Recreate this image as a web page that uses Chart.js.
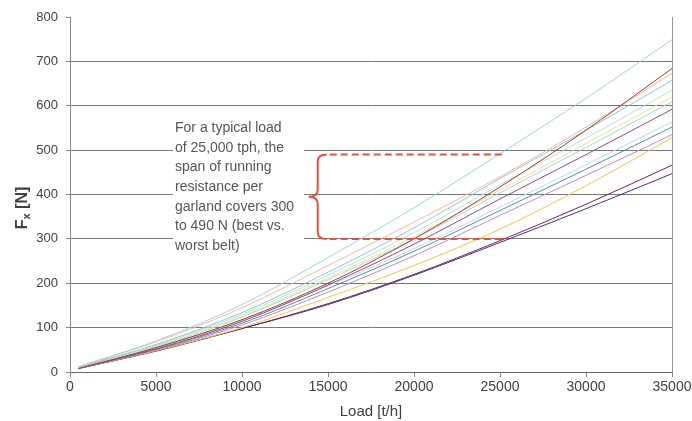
<!DOCTYPE html>
<html>
<head>
<meta charset="utf-8">
<script src="https://cdn.jsdelivr.net/npm/chart.js@4/dist/chart.umd.min.js"></script>
<style>
  html, body { margin: 0; padding: 0; background: #fff; }
  #wrap { width: 692px; height: 421px; }
</style>
</head>
<body>
<div id="wrap"><canvas id="myChart" width="692" height="421"></canvas></div>
<script>
// load points [t/h]
var loads = [500, 5000, 10000, 15000, 20000, 25000, 30000, 35000];

// running resistance per garland [N], one array per belt
var belt1  = [12, 70, 152, 258, 370, 492, 617, 749];
var belt2  = [8, 55, 118, 200, 300, 417, 545, 684];
var belt3  = [12, 68, 145, 240, 338, 440, 552, 673];
var belt4  = [11, 62, 134, 225, 325, 436, 545, 657];
var belt5  = [11, 60, 130, 218, 314, 422, 527, 635];
var belt6  = [10, 58, 126, 212, 305, 410, 515, 620];
var belt7  = [10, 57, 124, 208, 300, 404, 506, 609];
var belt8  = [9, 52, 114, 196, 288, 390, 490, 592];
var belt9  = [10, 54, 116, 194, 278, 372, 467, 564];
var belt10 = [9, 51, 110, 188, 272, 364, 457, 552];
var belt11 = [8, 49, 106, 180, 262, 353, 443, 535];
var belt12 = [9, 48, 100, 168, 240, 322, 420, 528];
var belt13 = [8, 47, 98, 154, 220, 296, 378, 466];
var belt14 = [8, 48, 98, 152, 218, 292, 368, 447];

var belts = [belt1, belt2, belt3, belt4, belt5, belt6, belt7, belt8, belt9, belt10, belt11, belt12, belt13, belt14];
var beltColors = ['#9dd3e8', '#a03a2a', '#f5b89a', '#8cc6dc', '#b8e2d2', '#ede29a', '#a8d4e6',
                  '#8c4a86', '#c4d6e0', '#4e8dae', '#c48ac0', '#f0c648', '#7a1e5e', '#34348e'];

// annotation: span at the typical load
var typicalLoad = 25000;
var spanLow = 300;
var spanHigh = 490;
var noteLines = ['For a typical load', 'of 25,000 tph, the', 'span of running', 'resistance per',
                 'garland covers 300', 'to 490 N (best vs.', 'worst belt)'];

var datasets = belts.map(function (vals, i) {
    return {
        data: vals.map(function (v, j) { return { x: loads[j], y: v }; }),
        borderColor: beltColors[i],
        borderWidth: 1,
        pointRadius: 0,
        fill: false,
        cubicInterpolationMode: 'monotone'
    };
});

var FONT = '"Liberation Sans", Arial, sans-serif';
var RED = '#e8503a';

var extras = {
    id: 'extras',
    afterDatasetsDraw: function (chart) {
        var c = chart.ctx, xs = chart.scales.x, ys = chart.scales.y;
        c.save();
        // note box
        c.fillStyle = '#fff';
        c.fillRect(173, 113, 131, 146);
        c.fillStyle = '#555';
        c.font = '14px ' + FONT;
        c.textBaseline = 'middle';
        noteLines.forEach(function (t, i) {
            c.fillText(t, 175, 128 + i * 19.7);
        });

        // brace and dashed span lines
        var yTop = ys.getPixelForValue(spanHigh);
        var yBot = ys.getPixelForValue(spanLow);
        var yMid = (yTop + yBot) / 2;
        var xb = xs.getPixelForValue(14400);
        var xEnd = xs.getPixelForValue(typicalLoad + 300);
        var r = 7;
        c.strokeStyle = RED;
        c.lineWidth = 2;
        c.beginPath();
        c.moveTo(xb + r + 2, yTop);
        c.quadraticCurveTo(xb, yTop, xb, yTop + r);
        c.lineTo(xb, yMid - 7);
        c.quadraticCurveTo(xb, yMid, xb - 9, yMid);
        c.quadraticCurveTo(xb, yMid, xb, yMid + 7);
        c.lineTo(xb, yBot - r);
        c.quadraticCurveTo(xb, yBot, xb + r + 2, yBot);
        c.stroke();

        c.setLineDash([7, 4]);
        c.beginPath();
        c.moveTo(xb + r + 5, yTop);
        c.lineTo(xEnd, yTop);
        c.moveTo(xb + r + 5, yBot);
        c.lineTo(xEnd, yBot);
        c.stroke();
        c.setLineDash([]);

        // y axis title with subscript
        c.translate(21, 208);
        c.rotate(-Math.PI / 2);
        c.fillStyle = '#404040';
        c.textBaseline = 'alphabetic';
        c.font = 'bold 16px ' + FONT;
        var w = c.measureText('F').width;
        var w2;
        c.font = 'bold 11px ' + FONT;
        w2 = c.measureText('x').width;
        c.font = 'bold 16px ' + FONT;
        var w3 = c.measureText(' [N]').width;
        var x0 = -(w + w2 + w3) / 2;
        c.fillText('F', x0, 6);
        c.font = 'bold 11px ' + FONT;
        c.fillText('x', x0 + w, 9);
        c.font = 'bold 16px ' + FONT;
        c.fillText(' [N]', x0 + w + w2, 6);
        c.restore();
    }
};

var ctx = document.getElementById('myChart').getContext('2d');
var myChart = new Chart(ctx, {
    type: 'line',
    data: { datasets: datasets },
    options: {
        responsive: false,
        animation: false,
        events: [],
        layout: { padding: { top: 17, right: 20, bottom: 0, left: 0 } },
        plugins: {
            legend: { display: false },
            tooltip: { enabled: false }
        },
        scales: {
            x: {
                type: 'linear',
                min: 0,
                max: 35000,
                afterFit: function (s) {
                    s.height = 49;
                    s.paddingLeft = 0;
                    s.paddingRight = 0;
                },
                ticks: {
                    stepSize: 5000,
                    autoSkip: false,
                    maxRotation: 0,
                    padding: 2,
                    color: '#404040',
                    font: { family: FONT, size: 14 },
                    callback: function (v) { return String(v); }
                },
                grid: {
                    drawOnChartArea: true,
                    color: function (c) { return c.tick && c.tick.value === 35000 ? '#999' : 'rgba(0,0,0,0)'; },
                    tickColor: '#888',
                    tickLength: 5
                },
                border: { color: '#666' },
                title: {
                    display: true,
                    text: 'Load [t/h]',
                    color: '#404040',
                    font: { family: FONT, size: 15 },
                    padding: { top: 0, bottom: 0 }
                }
            },
            y: {
                min: 0,
                max: 800,
                afterFit: function (s) { s.width = 70; },
                ticks: {
                    stepSize: 100,
                    padding: 8,
                    color: '#404040',
                    font: { family: FONT, size: 13 }
                },
                grid: {
                    color: function (c) { return c.tick && c.tick.value === 800 ? 'rgba(0,0,0,0)' : '#777'; },
                    tickColor: '#888',
                    tickLength: 4
                },
                border: { color: '#888' }
            }
        }
    },
    plugins: [extras]
});
</script>
</body>
</html>
